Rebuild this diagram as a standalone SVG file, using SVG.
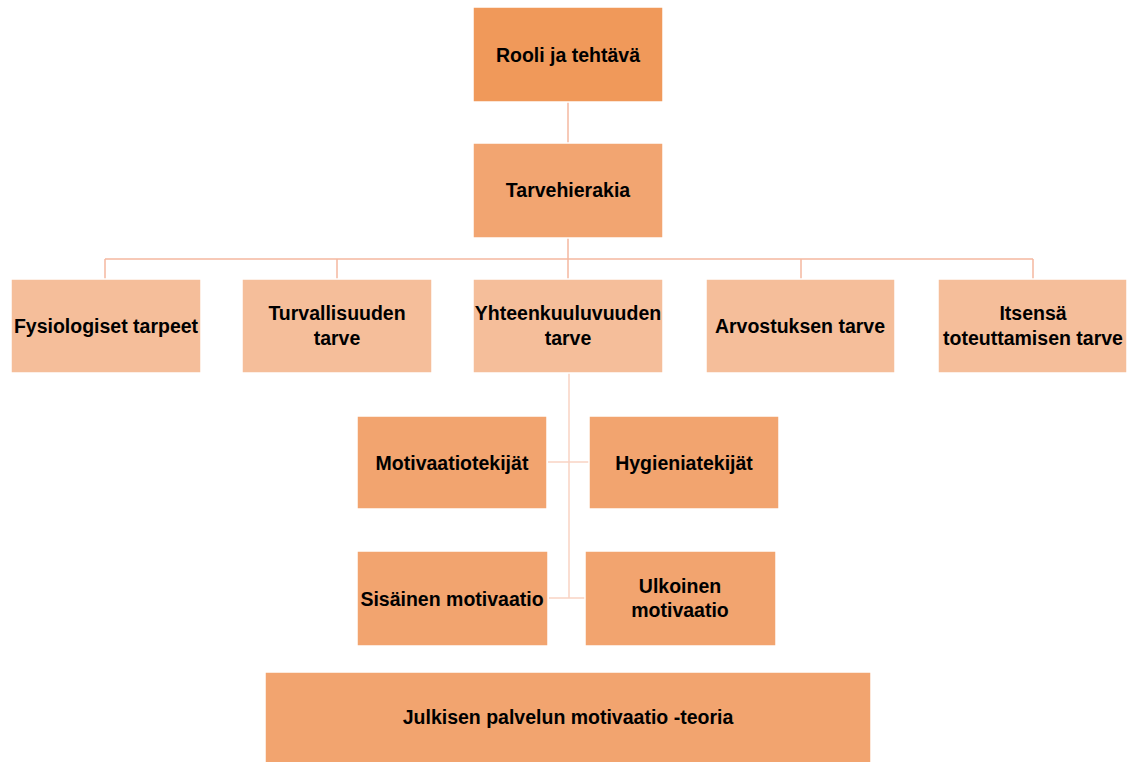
<svg xmlns="http://www.w3.org/2000/svg" width="1132" height="762" viewBox="0 0 1132 762">
<style>
.b{stroke:#ffffff;stroke-width:1.5}
.l1{fill:#F0995A}
.l2{fill:#F2A571}
.l3{fill:#F5BE9A}
.l4{fill:#F2A46F}
text{font-family:"Liberation Sans",Arial,sans-serif;font-weight:bold;font-size:19.5px;fill:#000;text-anchor:middle;dominant-baseline:central}
.c{fill:none;stroke:#F5B8A0;stroke-width:1.5}
.c2{fill:none;stroke:#F9D3C4;stroke-width:1.5}
</style>
<rect width="1132" height="762" fill="#ffffff"/>
<g id="connectors">
<path class="c" d="M568 102V143"/>
<path class="c" d="M568 238V279M105 259H1033M105 259V279M337 259V279M801 259V279M1033 259V279"/>
<path class="c2" d="M569 373V598M548 462H589M549 598H585"/>
</g>
<g id="n1"><rect class="b l1" x="473" y="7" width="190" height="95"/><text x="568" y="55">Rooli ja tehtävä</text></g>
<g id="n2"><rect class="b l2" x="473" y="143" width="190" height="95"/><text x="568" y="190">Tarvehierakia</text></g>
<g id="n3"><rect class="b l3" x="11" y="279" width="190" height="94"/><text x="106" y="326">Fysiologiset tarpeet</text></g>
<g id="n4"><rect class="b l3" x="242" y="279" width="190" height="94"/><text x="337" y="313">Turvallisuuden</text><text x="337" y="338">tarve</text></g>
<g id="n5"><rect class="b l3" x="473" y="279" width="190" height="94"/><text x="568" y="313">Yhteenkuuluvuuden</text><text x="568" y="338">tarve</text></g>
<g id="n6"><rect class="b l3" x="706" y="279" width="189" height="94"/><text x="800" y="326">Arvostuksen tarve</text></g>
<g id="n7"><rect class="b l3" x="938" y="279" width="189" height="94"/><text x="1033" y="313">Itsensä</text><text x="1033" y="338">toteuttamisen tarve</text></g>
<g id="n8"><rect class="b l4" x="357" y="416" width="190" height="93"/><text x="452" y="463">Motivaatiotekijät</text></g>
<g id="n9"><rect class="b l4" x="589" y="416" width="190" height="93"/><text x="684" y="463">Hygieniatekijät</text></g>
<g id="n10"><rect class="b l4" x="357" y="551" width="191" height="95"/><text x="452" y="599">Sisäinen motivaatio</text></g>
<g id="n11"><rect class="b l4" x="585" y="551" width="191" height="95"/><text x="680" y="586">Ulkoinen</text><text x="680" y="610">motivaatio</text></g>
<g id="n12"><rect class="b l4" x="265" y="672" width="606" height="91"/><text x="568" y="717">Julkisen palvelun motivaatio -teoria</text></g>
</svg>
